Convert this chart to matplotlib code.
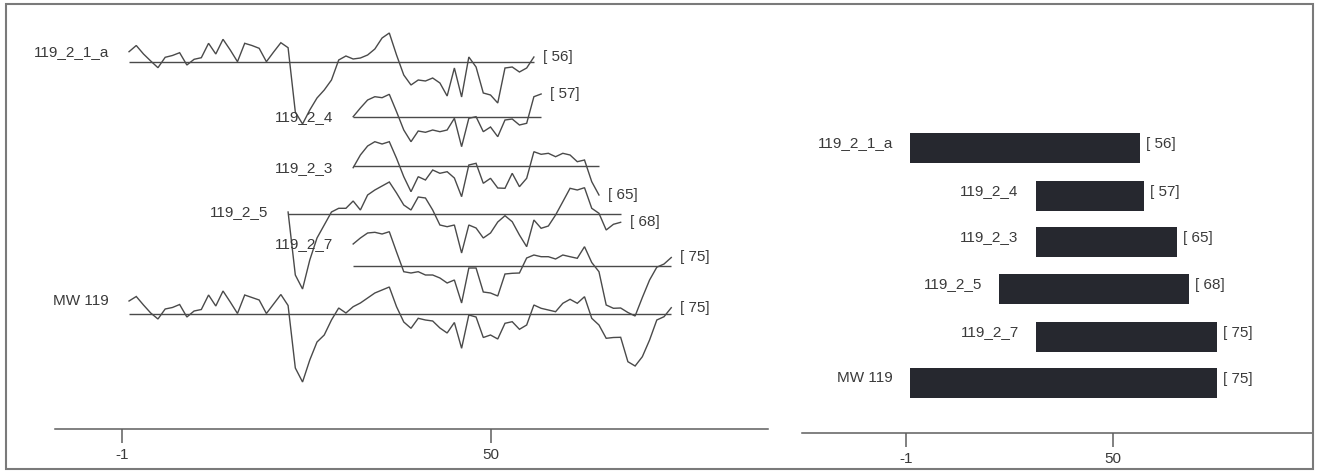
import matplotlib
matplotlib.use('Agg')
import matplotlib.pyplot as plt
from matplotlib.patches import Rectangle

plt.rcParams['font.family'] = ['Liberation Sans', 'DejaVu Sans']

# ---------------- data ----------------
names = ['119_2_1_a', '119_2_4', '119_2_3', '119_2_5', '119_2_7', 'MW 119']
starts = [0, 31, 31, 22, 31, 0]
ends = [56, 57, 65, 68, 75, 75]

v_119_2_1_a = [10.0, 16.2, 7.7, 0.7, -6.0, 4.4, 6.2, 9.0, -3.3, 2.4,
               4.0, 18.4, 7.7, 22.4, 11.7, 0.0, 18.4, 16.2, 13.4, 0.0,
               9.7, 19.0, 14.0, -50.3, -62.3, -48.3, -36.3, -28.3, -18.3, 1.7,
               5.7, 2.7, 3.7, 6.7, 12.7, 23.7, 28.7, 6.7, -13.3, -23.3,
               -18.3, -19.3, -16.3, -21.3, -34.3, -6.3, -35.3, 4.7, -5.3, -31.3,
               -33.3, -41.3, -6.3, -5.3, -10.3, -6.3, 4.7]
v_119_2_4 = [0.3, 9.0, 17.0, 20.3, 19.3, 22.7, 5.3, -13.0, -24.7, -14.0,
             -15.3, -13.0, -14.7, -13.0, -1.3, -29.7, -1.3, 0.3, -14.7, -10.0,
             -19.7, -3.0, -2.0, -8.0, -6.3, 20.3, 23.0]
v_119_2_3 = [-1.7, 11.0, 20.0, 24.3, 22.0, 24.3, 7.7, -10.7, -25.7, -10.7,
             -14.0, -4.0, -7.3, -5.7, -12.0, -30.7, 1.0, 2.7, -17.3, -12.3,
             -22.0, -22.3, -7.3, -20.7, -12.3, 14.3, 11.7, 12.7, 9.3, 12.7,
             11.0, 4.3, 6.0, -15.7, -29.0]
v_119_2_5 = [2.0, -61.0, -75.0, -46.0, -24.0, -11.0, 2.0, 5.7, 5.7, 13.0,
             4.0, 19.0, 24.0, 28.0, 32.0, 21.0, 9.0, 4.0, 17.0, 16.0,
             4.0, -11.0, -12.7, -11.0, -39.0, -11.0, -14.0, -24.0, -19.0, -8.0,
             -1.7, -7.7, -21.0, -32.7, -6.0, -14.3, -12.0, -1.0, 12.3, 25.7,
             24.0, 26.3, 5.7, 0.7, -16.0, -10.3, -8.3]
v_119_2_7 = [21.5, 27.5, 32.5, 33.2, 31.5, 33.8, 13.5, -6.2, -7.5, -6.2,
             -9.5, -9.5, -12.5, -17.5, -14.5, -37.5, -2.5, -2.5, -26.5, -27.5,
             -30.5, -8.5, -7.8, -7.5, 7.5, 10.5, 8.8, 8.8, 6.5, 10.5,
             8.8, 7.2, 18.8, 3.0, -6.2, -39.5, -42.8, -42.5, -47.0, -50.5,
             -32.0, -14.5, -1.7, 1.5, 8.0]
v_mw_119 = [13.0, 17.5, 9.0, 1.0, -5.0, 5.0, 6.5, 9.5, -3.0, 3.0,
            4.5, 19.0, 8.0, 23.0, 12.0, 0.5, 19.0, 16.5, 14.0, 0.5,
            10.0, 19.5, 8.5, -54.0, -68.0, -46.0, -28.0, -21.0, -6.0, 6.0,
            1.0, 7.3, 11.0, 16.0, 21.0, 24.0, 27.0, 7.3, -8.0, -14.3,
            -4.3, -6.0, -7.0, -14.0, -19.0, -8.5, -34.3, -1.0, -3.0, -23.5,
            -21.0, -25.0, -9.3, -7.7, -15.3, -11.0, 9.0, 5.7, 4.0, 2.3,
            10.7, 14.7, 10.7, 17.3, -4.3, -11.0, -24.3, -23.5, -23.3, -47.7,
            -52.0, -42.7, -26.0, -6.0, -2.7, 6.3]
series = [v_119_2_1_a, v_119_2_4, v_119_2_3, v_119_2_5, v_119_2_7, v_mw_119]

tick_vals = [-1, 50]
tick_labels = ['-1', '50']

# ---------------- layout ----------------
W, H = 1320, 471
track_rows = [61.7, 117.0, 166.0, 214.0, 265.5, 314.0]   # curve baselines (row units)
bar_rows = [148.3, 195.7, 242.3, 289.3, 336.7, 383.3]
line_col = '#4a4a4a'
axis_col = '#5e5e5e'
text_col = '#3a3a3a'
fs = 11

fig = plt.figure(figsize=(W / 100, H / 100), dpi=100)
fig.patch.set_facecolor('white')

def fx(px):
    return px / W

def fy(py):
    return (H - py) / H

# left panel
top_px = 8
axl_bottom = 429.3
axl = fig.add_axes([fx(55), fy(axl_bottom), fx(768) - fx(55), fy(top_px) - fy(axl_bottom)])
axl.set_xlim(-10.24, 88.38)
axl.set_ylim(axl_bottom, top_px)

for name, s, e, vals, row in zip(names, starts, ends, series, track_rows):
    yrs = list(range(s, e + 1))
    ys = [row - v for v in vals]
    axl.plot([s, e], [row, row], color=line_col, lw=1.0, solid_capstyle='butt')
    axl.plot(yrs, ys, color=line_col, lw=1.0, solid_joinstyle='miter')
    axl.annotate(name, xy=(s, ys[0]), xytext=(-14.4, 0), textcoords='offset points',
                 ha='right', va='center', fontsize=fs, color=text_col)
    axl.annotate('[ %d]' % e, xy=(e, ys[-1]), xytext=(6.5, 0), textcoords='offset points',
                 ha='left', va='center', fontsize=fs, color=text_col)

# right panel
axr_bottom = 433.3
axr = fig.add_axes([fx(801.7), fy(axr_bottom), fx(1313) - fx(801.7), fy(top_px) - fy(axr_bottom)])
axr.set_xlim(-26.73, 99.42)
axr.set_ylim(axr_bottom, top_px)
for name, s, e, row in zip(names, starts, ends, bar_rows):
    axr.barh(row, e + 0.8 - s, left=s, height=30, color='#26282f', edgecolor='none')
    axr.annotate(name, xy=(s, row), xytext=(-12.2, 3.6), textcoords='offset points',
                 ha='right', va='center', fontsize=fs, color=text_col)
    axr.annotate('[ %d]' % e, xy=(e + 0.8, row), xytext=(4.3, 3.0), textcoords='offset points',
                 ha='left', va='center', fontsize=fs, color=text_col)

for ax in (axl, axr):
    ax.set_facecolor('none')
    for sp in ('top', 'left', 'right'):
        ax.spines[sp].set_visible(False)
    ax.spines['bottom'].set_color(axis_col)
    ax.spines['bottom'].set_linewidth(1.1)
    ax.set_yticks([])
    ax.set_xticks(tick_vals)
    ax.set_xticklabels(tick_labels)
    ax.tick_params(axis='x', direction='out', length=10, width=1.1, pad=3.5,
                   labelsize=fs, colors=axis_col, labelcolor=text_col)

# outer frame
fig.add_artist(Rectangle((fx(6), fy(469)), fx(1313) - fx(6), fy(4) - fy(469),
                         transform=fig.transFigure, fill=False,
                         edgecolor='#7a7a7a', lw=1.5))

fig.savefig('out.png', dpi=100, facecolor='white')
